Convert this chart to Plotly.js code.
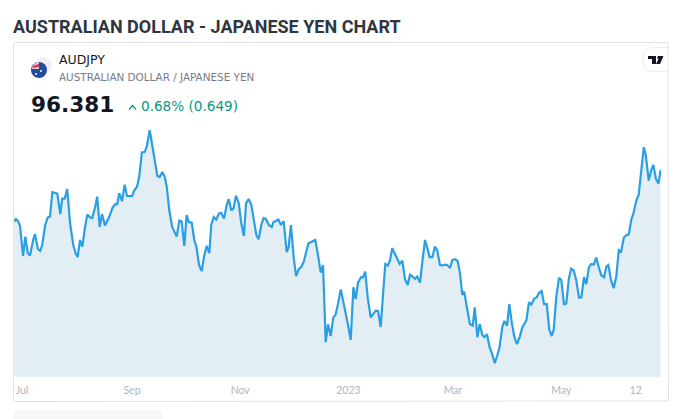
<!DOCTYPE html>
<html><head><meta charset="utf-8">
<script src="https://cdn.plot.ly/plotly-3.0.1.min.js"></script>
<style>html,body{margin:0;padding:0;background:#fff;overflow:hidden}#c{width:680px;height:419px}</style>
</head><body><div id="c"></div>
<script>
// Days since 1 Jul 2022 (calendar)
const days=[-4.3,-3.4,-2.1,-1.1,.6,1.9,3.2,4.5,6.4,7.3,9,10.3,11.4,13.1,14.5,15.8,17.1,18.4,19.9,21.6,22.7,24.1,25.5,27.1,28.9,30.3,31.4,32.7,34,35.3,36.8,38.3,39.6,41.2,42.4,43.8,45.1,46.8,49,51.1,52.6,53.7,54.8,56.4,57.9,59.2,62,63.7,64.8,66.1,67.6,69.2,70.3,72,73.7,75,76.3,77.6,79.1,80.4,81.6,83,84.6,87.2,88.7,90,91.5,92.8,94.1,95.7,97.1,98.3,99.8,101.3,102.6,104.1,105.6,106.7,108.1,109.5,111.1,112.3,113.9,115.4,116.5,118,119.3,120.6,122.2,123.6,125.1,126.3,127.8,129.3,130.8,132.1,133.4,134.9,136.2,137.5,139.1,140.8,141.7,144.5,146,147.5,149.2,150.3,151.6,153.2,154.5,156,157.4,159,161.4,165.3,166.7,168.4,169.7,171.2,172.5,174,175.5,176.8,178.2,179.7,181.1,182.5,183.6,185.3,186.8,188.1,189.4,191.1,192.2,193.5,194.9,196.6,198,199.4,200.7,202.2,203.7,204.8,206.3,207.5,208.7,210.4,212.9,214.4,215.9,217.4,218.7,220.2,221.5,222.8,224.4,225.9,227.2,228.5,229.8,231.3,232.8,234.1,235.6,236.9,238.8,239.7,241.3,242.6,244.3,245.6,246.9,248.2,249.3,250.7,252.5,254.1,255.2,256.7,258,259.5,260.6,262.1,263.6,264.8,266.5,267.8,269.1,270.8,271.9,273.4,274.7,276,277.5,279,280.6,282,284.3,285.8,287.1,288.8,290.1,291.4,292.9,294.3,295.8,297.2,298.6,299.7,301.2,302.7,304,305.5,306.8,308.3,309.6,311,312.4,314,315.3,316.8,318.1,319.5,320.8,322.3,323.7,325.3,326.5,328.1,329.4,330.5,332,333.5,335,336.4,337.7,339.3,340.6,342,343.5,344.6,346.3,347.6,348.9,350.5,351.6,353.3,354.6,355.9,357.4,358.7,360];
const prices=[93.8,93.93,93.8,93.58,92.08,93.05,92.25,92.1,92.92,93.18,92.42,92.33,92.63,93.63,94,94.05,95.27,95.22,95.2,94.17,94.95,94.95,95.43,93.72,92.63,92.2,92.03,92.88,92.55,93.38,94.15,94.02,93.98,94.52,95.05,93.53,94.17,93.6,94,94.5,94.67,94.67,95.22,94.83,95.65,95.08,95.07,95.43,95.52,96.05,97.27,97.28,97.55,98.37,97.38,96.63,96.08,96.03,96.28,96.05,95.55,94.38,93.55,93.05,93.85,93.8,92.58,94.13,93.77,93.75,92.88,92.55,91.63,91.33,92.05,92.58,92.22,93.63,94.03,93.9,94.22,94.23,93.95,94.63,94.93,94.35,94.48,95.1,94.72,93.72,93.08,94.72,94.93,94.63,93.88,93.13,92.92,93.63,93.97,93.93,93.63,93.53,93.77,93.9,93.63,93.83,92.27,92.52,93.63,91.97,91.08,91.42,91.52,91.85,92.71,92.88,92.22,91.25,91.63,87.77,88.67,88.08,89.01,89.15,89.71,90.41,89.8,89.08,88.72,87.88,90.52,89.93,90.75,91.02,91,91.3,89.97,89.01,89.21,89.35,89.33,88.53,90.38,91.68,91.61,91.88,92.47,92.18,91.68,91.85,90.92,90.63,91.15,91.05,90.93,91.05,90.75,91.97,92.88,92.47,92.02,92.02,92.55,92.35,91.63,91.61,91.65,91.63,91.48,91.88,91.92,91.82,91.21,90.13,90.3,89.55,88.68,88.6,89.51,88.02,88.68,88.13,88.02,88.17,87.51,87.25,86.72,87.08,87.48,88.55,88.83,88.6,89.67,88.8,88.05,87.67,88.05,88.51,88.86,89.77,89.65,89.95,90.01,90.23,90.33,89.67,89.67,88.41,88.08,88.38,90.05,90.99,90.88,89.67,89.7,90.97,91.45,91.35,90.88,89.99,90.01,91.03,90.67,91.5,91.68,91.65,92,91.47,91.13,91.02,91.55,91.63,90.88,90.47,91.05,92.37,92.3,93,93.12,93.15,93.92,94.18,94.85,95.13,96.38,97.52,97.13,95.85,96.35,96.63,95.92,95.7,96.38];
const tickDays=[0,62,123,184,243,304,346];
const tickLabels=['Jul','Sep','Nov','2023','Mar','May','12'];

const W=680,H=419,L=14,R=661,T=43,B=377;
const px=x=>(x-L)/(R-L), py=y=>(B-y)/(B-T);
const rect=(x0,y0,x1,y1,fill,line)=>({type:'rect',xref:'paper',yref:'paper',x0:px(x0),x1:px(x1),y0:py(y0),y1:py(y1),fillcolor:fill,line:{color:line||fill,width:line?1:0},layer:'below'});
const pth=(d,fill,line)=>({type:'path',xref:'paper',yref:'paper',path:d,fillcolor:fill,line:{color:line||fill,width:line?1:0},layer:'above'});
const P=cmds=>cmds.map(c=>c[0]+c.slice(1).reduce((s,v,i)=>s+(i?(i%2?',':' '):'')+(i%2?py(v):px(v)),'')).join(' ')+' Z';
const txt=(x,y,text,size,color,family,weight,anchor)=>({xref:'paper',yref:'paper',x:px(x),y:py(y),text:weight?('<b>'+text+'</b>'):text,showarrow:false,xanchor:anchor||'left',yanchor:'middle',align:'left',borderpad:0,borderwidth:0,font:{size,color,family}});

const shapes=[
 pth(P([['M',16,42.5],['L',668,42.5],['L',668.5,401],['L',16,401.5],['Q',13.5,401.5,13.5,399],['L',13.5,45],['Q',13.5,42.5,16,42.5]]),'rgba(0,0,0,0)','#e0e3eb'),
 rect(13,410,163,419,'#f8f8f9'),
 pth(P([['M',668,47.5],['L',654,47.5],['Q',642.5,47.5,642.5,59.5],['Q',642.5,71.5,654,71.5],['L',668,71.5]]),'#ffffff','#eceef2'),
 pth(P([['M',648,56],['L',656,56],['L',656,64],['L',652,64],['L',652,59],['L',648,59]]),'#131722'),
 pth(P([['M',658,56],['L',663.5,56],['L',660,64],['L',656,64],['L',658.5,59],['L',657,58]]),'#131722'),
 {type:'circle',xref:'paper',yref:'paper',x0:px(36),x1:px(52),y0:py(73),y1:py(57),fillcolor:'#eef0f3',line:{width:0},layer:'above'},
 {type:'circle',xref:'paper',yref:'paper',x0:px(31),x1:px(47),y0:py(78),y1:py(62),fillcolor:'#1f4e9e',line:{width:0},layer:'above'},
 pth(P([['M',32,67],['Q',34,62.5,39,62],['L',39,69],['L',32,69]]),'#f3c6cf'),
 pth(P([['M',33,66],['L',39,64],['L',39,66.5],['L',32.5,68]]),'#d8304a'),
 {type:'circle',xref:'paper',yref:'paper',x0:px(40),x1:px(42),y0:py(72),y1:py(70),fillcolor:'#ffffff',line:{width:0},layer:'above'},
 {type:'circle',xref:'paper',yref:'paper',x0:px(35),x1:px(37),y0:py(75),y1:py(73),fillcolor:'#ffffff',line:{width:0},layer:'above'},
 {type:'path',xref:'paper',yref:'paper',path:P([['M',129,109.5],['L',132.5,105.5],['L',136,109.5],['L',132.5,105.5]]),line:{color:'#089981',width:1.2},layer:'above'}
];

const annotations=[
 txt(13,26.5,'AUSTRALIAN DOLLAR - JAPANESE YEN CHART',18,'#2f3640','Roboto',true),
 txt(59,59.5,'AUDJPY',12.5,'#131722','DejaVu Sans'),
 txt(59,77,'AUSTRALIAN DOLLAR / JAPANESE YEN',10.4,'#787b86','DejaVu Sans'),
 txt(30.5,104,'96.381',21.6,'#131722','DejaVu Sans',true),
 txt(141,106,'0.68% (0.649)',13.6,'#089981','DejaVu Sans')
];

Plotly.newPlot('c',[{
  x:days,y:prices,type:'scatter',mode:'lines',
  line:{color:'#2a9fe3',width:2.2,shape:'linear'},
  fill:'tozeroy',fillcolor:'#e3eef4',hoverinfo:'skip'
}],{
  width:W,height:H,margin:{l:L,r:W-R,t:T,b:H-B,pad:0},
  paper_bgcolor:'#ffffff',plot_bgcolor:'#ffffff',showlegend:false,
  xaxis:{range:[-4.5,360.2],tickmode:'array',tickvals:tickDays,ticktext:tickLabels,showgrid:false,zeroline:false,showline:false,ticks:'',
    tickfont:{size:10.5,color:'#b2b5be',family:'Lato'},ticklabelstandoff:5,fixedrange:true},
  yaxis:{range:[86.03,102.73],visible:false,fixedrange:true},
  shapes,annotations
},{displayModeBar:false,staticPlot:true});
</script></body></html>
